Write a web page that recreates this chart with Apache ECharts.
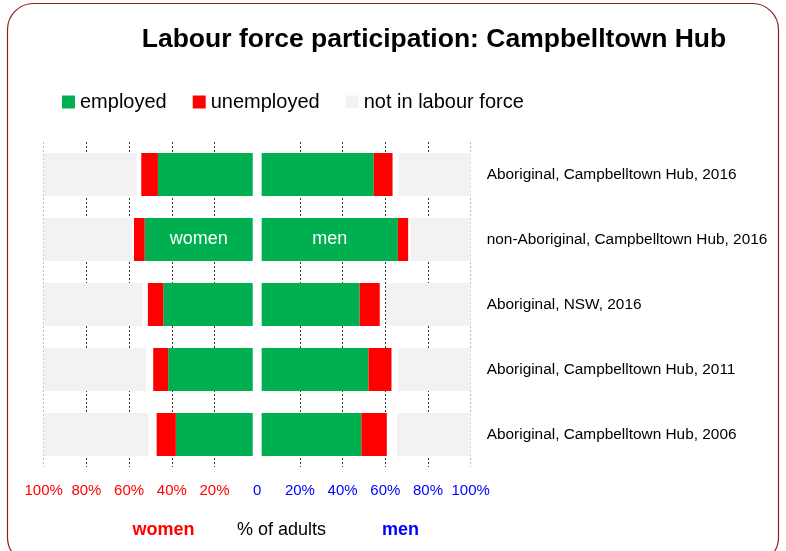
<!DOCTYPE html>
<html>
<head>
<meta charset="utf-8">
<title>Labour force participation: Campbelltown Hub</title>
<script src="https://cdn.jsdelivr.net/npm/echarts@6/dist/echarts.min.js"></script>
<style>
  html, body { margin: 0; padding: 0; background: #fff; }
  #chart { width: 786px; height: 551px; }
</style>
</head>
<body>
<div id="chart"></div>
<script>
// categories (top to bottom)
const categories = [
  'Aboriginal, Campbelltown Hub, 2016',
  'non-Aboriginal, Campbelltown Hub, 2016',
  'Aboriginal, NSW, 2016',
  'Aboriginal, Campbelltown Hub, 2011',
  'Aboriginal, Campbelltown Hub, 2006'
]

// % of adults, women (drawn to the left)
const womenEmployed = [44.4, 50.6, 41.9, 39.6, 36.0]
const womenUnemployed = [7.8, 5.0, 7.2, 7.0, 9.0]
const womenNotStated = [2.2, 1.1, 2.5, 3.4, 3.8]
const womenNotInLabourForce = [43.6, 41.3, 46.4, 48.0, 49.2]

// % of adults, men (drawn to the right)
const menEmployed = [52.5, 63.8, 45.9, 50.0, 46.7]
const menUnemployed = [8.8, 4.8, 9.4, 10.8, 11.9]
const menNotStated = [2.8, 1.1, 3.1, 3.1, 4.8]
const menNotInLabourForce = [33.8, 28.1, 39.4, 33.9, 34.4]

// small empty gap either side of the centre line
const centreGap = [2.1, 2.1, 2.1, 2.1, 2.1]

const xTicks = [-100, -80, -60, -40, -20, 0, 20, 40, 60, 80, 100]

const GREEN = '#00B050'
const RED = '#FF0000'
const GREY = '#F2F2F2'
const FONT = '"Liberation Sans", Arial, sans-serif'

const chart = echarts.init(document.getElementById('chart'))

const neg = arr => arr.map(v => -v)

// one stacked bar series; both stacks share the same slot
const bar = (name, stack, data, color) => ({
  name,
  type: 'bar',
  stack,
  barWidth: 43,
  barGap: '-100%',
  data,
  itemStyle: { color },
  emphasis: { disabled: true },
  silent: color === 'transparent'
})

const insideLabel = (data, idx, text) => data.map((v, i) => i === idx ? {
  value: v,
  label: { show: true, position: 'inside', formatter: text, color: '#fff', fontSize: 18, fontFamily: FONT }
} : v)

const option = {
  animation: false,
  textStyle: { fontFamily: FONT },
  title: {
    text: 'Labour force participation: Campbelltown Hub',
    left: 429,
    textAlign: 'center',
    top: 21,
    textStyle: { fontSize: 26.5, fontWeight: 'bold', color: '#000', fontFamily: FONT }
  },
  legend: {
    data: ['employed', 'unemployed', 'not in labour force'],
    left: 57,
    top: 87,
    icon: 'rect',
    itemWidth: 13,
    itemHeight: 13,
    itemGap: 26,
    selectedMode: false,
    textStyle: { fontSize: 20, color: '#000', fontFamily: FONT }
  },
  grid: {
    left: 43.7,
    right: 315.3,
    top: 142,
    height: 325,
    containLabel: false
  },
  xAxis: {
    type: 'value',
    min: -100,
    max: 100,
    interval: 20,
    axisLine: { show: false },
    axisTick: { show: false },
    axisLabel: {
      margin: 16,
      fontSize: 15,
      formatter: v => v < 0 ? '{r|' + (-v) + '%}' : v === 0 ? '{b|0}' : '{b|' + v + '%}',
      rich: {
        r: { color: RED, fontSize: 15, fontFamily: FONT },
        b: { color: '#0000FF', fontSize: 15, fontFamily: FONT }
      }
    },
    splitLine: {
      show: true,
      lineStyle: {
        type: [2, 2],
        width: 1,
        color: xTicks.map(v => Math.abs(v) === 100 ? '#bbb' : v === 0 ? 'rgba(0,0,0,0)' : '#333')
      }
    }
  },
  yAxis: {
    type: 'category',
    data: categories,
    inverse: true,
    position: 'right',
    axisLine: { show: false },
    axisTick: { show: false },
    splitLine: { show: false },
    axisLabel: {
      align: 'left',
      margin: 16,
      fontSize: 15.4,
      color: '#000',
      fontFamily: FONT
    }
  },
  series: [
    // women
    bar('gap-w', 'w', neg(centreGap), 'transparent'),
    bar('employed', 'w', insideLabel(neg(womenEmployed), 1, 'women'), GREEN),
    bar('unemployed', 'w', neg(womenUnemployed), RED),
    bar('not stated-w', 'w', neg(womenNotStated), 'transparent'),
    bar('not in labour force', 'w', neg(womenNotInLabourForce), GREY),
    // men
    bar('gap-m', 'm', centreGap, 'transparent'),
    bar('employed', 'm', insideLabel(menEmployed, 1, 'men'), GREEN),
    bar('unemployed', 'm', menUnemployed, RED),
    bar('not stated-m', 'm', menNotStated, 'transparent'),
    bar('not in labour force', 'm', menNotInLabourForce, GREY)
  ],
  graphic: [
    {
      type: 'rect',
      shape: { x: 7.5, y: 3.5, width: 771, height: 560, r: 26 },
      style: { fill: 'none', stroke: '#8B2323', lineWidth: 1.2 },
      silent: true,
      z: -1
    },
    {
      type: 'text', x: 163.5, y: 530,
      style: { text: 'women', fill: RED, font: 'bold 18px ' + FONT, textAlign: 'center', textVerticalAlign: 'middle' }
    },
    {
      type: 'text', x: 281.5, y: 530,
      style: { text: '% of adults', fill: '#000', font: '18px ' + FONT, textAlign: 'center', textVerticalAlign: 'middle' }
    },
    {
      type: 'text', x: 400.5, y: 530,
      style: { text: 'men', fill: '#0000FF', font: 'bold 18px ' + FONT, textAlign: 'center', textVerticalAlign: 'middle' }
    }
  ]
}

chart.setOption(option)
</script>
</body>
</html>
